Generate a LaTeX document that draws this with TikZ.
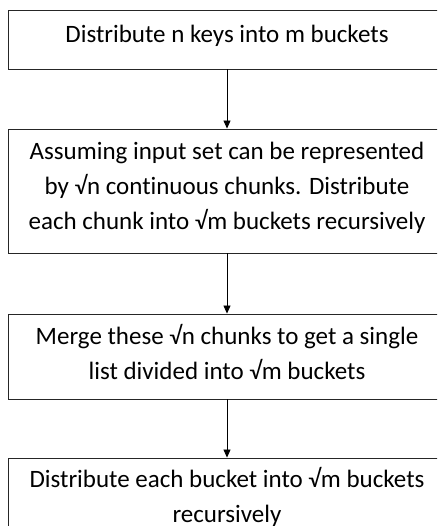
\documentclass[tikz,border=0pt]{standalone}
\usepackage{fontspec}
\setmainfont[RawFeature={-liga}]{Carlito}
\usetikzlibrary{arrows.meta}
\begin{document}
\begin{tikzpicture}[x=1pt,y=-1pt,
  stepbox/.style={draw=black!85,line width=0.9pt,minimum width=438pt,inner sep=0pt},
  steptext/.style={inner sep=0pt,align=center,font=\fontsize{25}{35}\selectfont},
  flow/.style={draw=black,line width=0.8pt,-{Triangle[width=7pt,length=8pt]}}]
\useasboundingbox (0,0) rectangle (437,526);
\clip (0,0) rectangle (437,526);
\fill[white] (0,0) rectangle (437,526);
\node[stepbox,minimum height=59pt] (b1) at (227,39.5) {};
\node[stepbox,minimum height=124pt] (b2) at (227,191) {};
\node[stepbox,minimum height=85pt] (b3) at (227,356.5) {};
\node[stepbox,minimum height=100pt] (b4) at (227,508) {};
\node[steptext] (t1) at (227,35.5) {Distribute n keys into m buckets};
\node[steptext] (t2) at (227,187.5) {Assuming input set can be represented\\by √n continuous chunks. Distribute\\each chunk into √m buckets recursively};
\node[steptext] (t3) at (227,352) {Merge these √n chunks to get a single\\list divided into √m buckets};
\node[steptext] (t4) at (227,497) {Distribute each bucket into √m buckets\\recursively};
\draw[flow] (b1) -- (b2);
\draw[flow] (b2) -- (b3);
\draw[flow] (b3) -- (b4);
\end{tikzpicture}
\end{document}
